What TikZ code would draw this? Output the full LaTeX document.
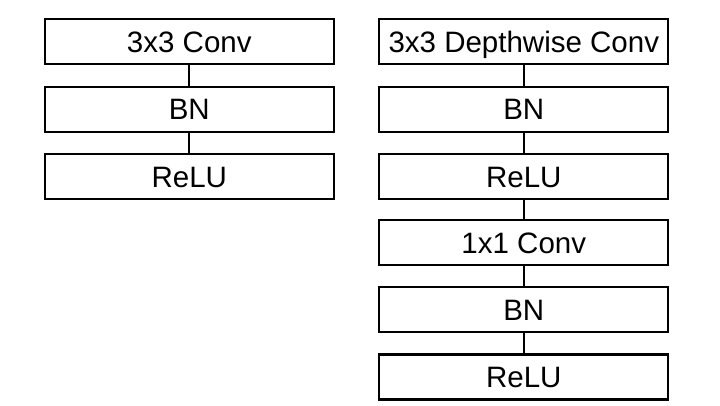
\documentclass[tikz,border=0pt]{standalone}
\usepackage{fontspec}
\setmainfont{Liberation Sans}
\begin{document}
\begin{tikzpicture}[x=1pt,y=-1pt,
  blk/.style={draw=black, line width=2.2pt, fill=white, minimum width=289pt, minimum height=45pt, inner sep=0pt,
    font=\fontsize{29.5}{32}\selectfont, text height=21pt, text depth=0pt},
  link/.style={draw=black, line width=2.2pt}]
\useasboundingbox (0,0) rectangle (720,405);
\node[blk] (l1) at (189.3,41.8) {3x3 Conv};
\node[blk] (l2) at (189.3,109.2) {BN};
\node[blk] (l3) at (189.3,176.5) {ReLU};
\node[blk] (r1) at (523.8,41.8) {3x3 Depthwise Conv};
\node[blk] (r2) at (523.8,109.2) {BN};
\node[blk] (r3) at (523.8,176.5) {ReLU};
\node[blk] (r4) at (523.8,242.5) {1x1 Conv};
\node[blk] (r5) at (523.8,309.8) {BN};
\node[blk] (r6) at (523.8,377) {ReLU};
\draw[link] (l1) -- (l2);
\draw[link] (l2) -- (l3);
\draw[link] (r1) -- (r2);
\draw[link] (r2) -- (r3);
\draw[link] (r3) -- (r4);
\draw[link] (r4) -- (r5);
\draw[link] (r5) -- (r6);
\end{tikzpicture}
\end{document}
